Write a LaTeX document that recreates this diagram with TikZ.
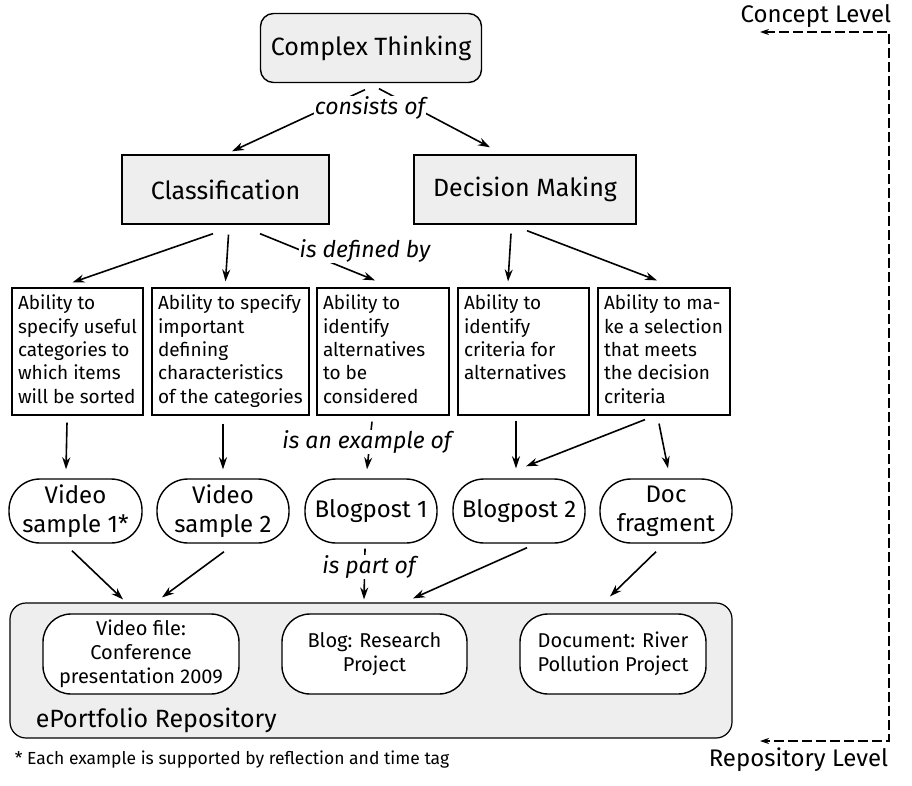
\documentclass[tikz,border=0pt]{standalone}
\usepackage{fontspec}
\setmainfont{Fira Sans}
\usetikzlibrary{positioning,calc,arrows.meta}

\definecolor{boxgray}{HTML}{EEEEEE}
\newcommand{\abox}[2]{\parbox[c][113pt][t]{#1}{#2}}

\tikzset{
  concept/.style={draw, fill=boxgray, line width=1.4pt, minimum height=69pt, font=\fontsize{25}{30}\selectfont},
  ability/.style={draw, fill=white, line width=1.2pt, inner ysep=0pt, inner xsep=6pt, minimum height=127pt, font=\fontsize{19}{23.3}\selectfont},
  sample/.style={draw, fill=white, line width=1.4pt, rounded corners=31pt, minimum width=132pt, minimum height=64pt, inner sep=1pt, align=center, font=\fontsize{24}{29}\selectfont},
  artifact/.style={draw, fill=white, line width=1.4pt, rounded corners=28pt, minimum height=80pt, inner sep=1pt, align=center, font=\fontsize{20}{24}\selectfont},
  link/.style={fill=white, inner sep=1pt, font=\fontsize{23}{27}\selectfont\itshape},
  note/.style={inner sep=0pt},
  level/.style={dash pattern=on 10pt off 4pt, line width=1.4pt, {Stealth[length=9pt,width=6pt]}-{Stealth[length=9pt,width=6pt]}}
}

\begin{document}
\begin{tikzpicture}[x=1pt, y=-1pt, line width=1.6pt, >={Stealth[length=12pt,width=8pt]}]
    \useasboundingbox (0,0) rectangle (912,786);

    % concept level
    \node (CT)[concept, rounded corners=13pt, minimum width=221pt] at (371,48) {Complex Thinking};
    \node (CL)[concept, minimum width=207pt] at (225.5,189.5) {Classification};
    \node (DM)[concept, minimum width=222pt] at (525,189.5) {Decision Making};

    \node (A1)[ability] at (77.5,351.5) {\abox{119pt}{Ability to\\ specify useful\\ categories to\\ which items\\ will be sorted}};
    \node (A2)[ability] at (230.5,351.5) {\abox{145pt}{Ability to specify\\ important\\ defining\\ characteristics\\ of the categories}};
    \node (A3)[ability] at (383,351.5) {\abox{120pt}{Ability to\\ identify\\ alternatives\\ to be\\ considered}};
    \node (A4)[ability] at (523.5,351.5) {\abox{119pt}{Ability to\\ identify\\ criteria for\\ alternatives}};
    \node (A5)[ability] at (664,351.5) {\abox{120pt}{Ability to ma-\\ ke a selection\\ that meets\\ the decision\\ criteria}};

    \node (E1)[sample, minimum width=133pt] at (75.5,511) {Video\\ sample 1*};
    \node (E2)[sample] at (223,511) {Video\\ sample 2};
    \node (E3)[sample] at (371,511) {Blogpost 1};
    \node (E4)[sample] at (519,511) {Blogpost 2};
    \node (E5)[sample] at (666,511) {Doc\\ fragment};

    % repository level
    \node (R)[draw, fill=boxgray, line width=1.2pt, rounded corners=16pt, minimum width=722pt, minimum height=135pt] at (371,670.5) {};
    \node (R1)[artifact, minimum width=196pt] at (141,654) {Video file:\\ Conference\\ presentation 2009};
    \node (R2)[artifact, minimum width=185pt] at (374.5,654) {Blog: Research\\ Project};
    \node (R3)[artifact, minimum width=186pt] at (613,654) {Document: River\\ Pollution Project};
    \node (RT)[note, anchor=west, font=\fontsize{25}{30}\selectfont] at (35,720) {ePortfolio Repository};

    % links
    \draw[->] ($(CT.south)+(-6,6.5)$) -- ($(CL.north)+(6.5,-3)$);
    \draw[->] ($(CT.south)+(8,5.5)$) -- ($(DM.north)+(-35,-7)$);
    \draw[->] ($(CL.south)+(-12.5,9)$) -- ($(A1.north)+(-5,-5)$);
    \draw[->] ($(CL.south)+(3,10)$) -- ($(A2.north)+(-5,-6)$);
    \draw[->] ($(CL.south)+(34.5,9)$) -- ($(A3.north)+(-8,-7)$);
    \draw[->] ($(DM.south)+(-14,9)$) -- ($(A4.north)+(-15.5,-6)$);
    \draw[->] ($(DM.south)+(2,6)$) -- ($(A5.north)+(-7,-7)$);
    \draw[->] ($(A1.south)+(-10.5,7)$) -- ($(E1.north)+(-9.5,-9)$);
    \draw[->] ($(A2.south)+(-7.5,8)$) -- ($(E2.north)+(0,-9)$);
    \draw[->] ($(A3.south)+(-11,6)$) -- ($(E3.north)+(-4,-9)$);
    \draw[->] ($(A4.south)+(-7.5,5)$) -- ($(E4.north)+(-3,-10)$);
    \draw[->] ($(A5.south)+(-19,4)$) -- ($(E4.north)+(7,-12)$);
    \draw[->] ($(A5.south)+(-5,8)$) -- ($(E5.north)+(2,-10)$);
    \draw[->] ($(E1.south)+(-3.5,7)$) -- ($(R.north)+(-248,-3)$);
    \draw[->] ($(E2.south)+(1,8)$) -- ($(R.north)+(-209,-5)$);
    \draw[->] ($(E3.south)+(-6,5)$) -- ($(R.north)+(-7,-3)$);
    \draw[->] ($(E4.south)+(8,4)$) -- ($(R.north)+(42,-4)$);
    \draw[->] ($(E5.south)+(-10,8)$) -- ($(R.north)+(239,-6)$);

    \node (L1)[link] at (370,108) {consists of};
    \node (L2)[link] at (365,251) {is defined by};
    \node (L3)[link] at (367,442) {is an example of};
    \node (L4)[link] at (369,567) {is part of};

    \node (FN)[note, anchor=west, font=\fontsize{17.5}{21}\selectfont] at (14,760) {* Each example is supported by reflection and time tag};

    % levels
    \node (CLT)[note, anchor=east, font=\fontsize{24}{28}\selectfont] at (892,16) {Concept Level};
    \node (RLT)[note, anchor=east, font=\fontsize{24}{28}\selectfont] at (889,760) {Repository Level};
    \coordinate (CLe) at (760,32);
    \coordinate (RLe) at (760,741);
    \draw[level] (CLe) -- ++(129,0) |- (RLe);
\end{tikzpicture}
\end{document}
